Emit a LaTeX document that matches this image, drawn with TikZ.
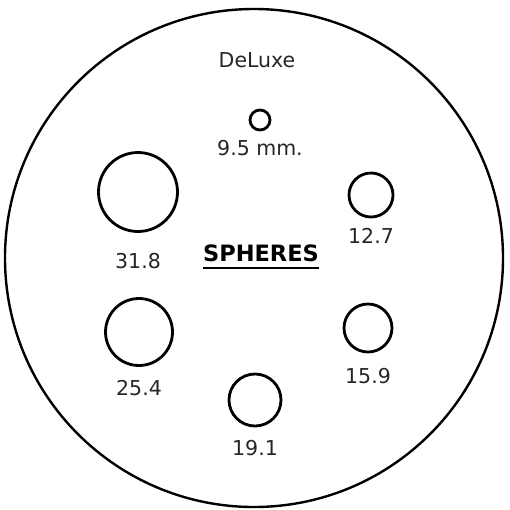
\documentclass[tikz,border=0pt]{standalone}
\usepackage{fontspec}
\setmainfont{DejaVu Sans}
\usetikzlibrary{positioning}
\tikzset{
  plate/.style={circle,draw,line width=2.4pt,inner sep=0pt,minimum size=#1},
  hole/.style={circle,draw,line width=2.8pt,inner sep=0pt,minimum size=#1},
  sizelabel/.style={font=\fontsize{20.5}{20.5}\selectfont,inner sep=0pt,text=black!85},
}
\newcommand{\sphere}[6]{%
  \node[hole=#4] (#1) at (#2,#3) {};%
  \node[sizelabel] (#1lab) at (#2,#6) {#5};%
}

\begin{document}
\begin{tikzpicture}[x=1pt,y=-1pt]
  \useasboundingbox (0,0) rectangle (510,509);
  \node[plate=498pt] (disc) at (254,258) {};
  \node[sizelabel] (title) at (257,60) {DeLuxe};
  \sphere{s95}{260}{120}{20pt}{9.5 mm.}{148}
  \sphere{s318}{138}{192}{79pt}{31.8}{261}
  \sphere{s127}{371}{195}{44pt}{12.7}{236}
  \sphere{s254}{139}{332}{67pt}{25.4}{388}
  \sphere{s159}{368}{328}{48pt}{15.9}{376}
  \sphere{s191}{255}{400}{52pt}{19.1}{448}
  \node[font=\bfseries\fontsize{22.5}{22.5}\selectfont,inner sep=0pt] (head) at (261,253) {SPHERES};
  \draw[line width=2.2pt] (head.south west) ++(0,6) coordinate (ul) -- (ul -| head.south east);
\end{tikzpicture}
\end{document}
